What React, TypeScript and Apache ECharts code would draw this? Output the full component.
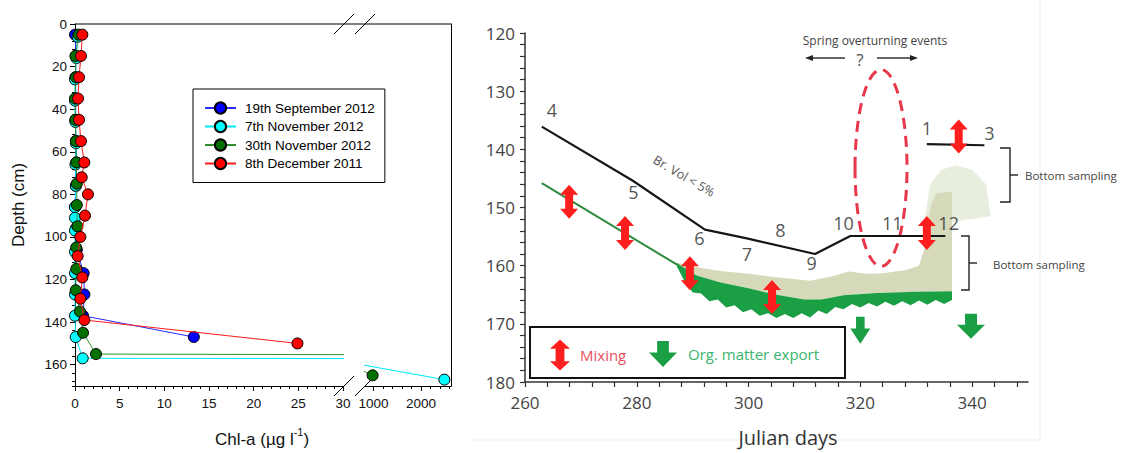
import React, { useEffect, useRef } from 'react';
import * as echarts from 'echarts';

// ---------------- Left panel: Chl-a profiles ----------------
const SERIES_NAMES = ['19th September 2012', '7th November 2012', '30th November 2012', '8th December 2011'];
const MARKER_COLORS = ['#0000ff', '#00ffff', '#007000', '#ff0000'];
const LINE_COLORS = ['#2a2aff', '#00e8ff', '#2f8f2f', '#ff1a1a'];

const sepDepth = [5, 15, 25, 35, 45, 55, 65, 76, 86, 96, 106, 117, 127, 137, 147];
const sepChl = [0.0, 0.1, 0.05, 0.1, 0.05, 0.1, 0.15, 0.1, 0.0, 0.1, 0.2, 0.97, 1.05, 0.9, 13.3];
const nov7Depth = [6, 16, 26, 36, 46, 56, 66, 76, 86, 91, 97, 107, 117, 127, 137, 147, 157, 167];
const nov7Chl = [0.3, 0.15, 0.0, 0.0, 0.05, 0.1, 0.05, 0.1, 0.0, 0.0, 0.0, 0.0, 0.0, 0.0, 0.0, 0.08, 0.86, 2490];
const nov30Depth = [5, 15, 25, 35, 45, 55, 65, 75, 85, 95, 105, 115, 125, 135, 145, 155, 165];
const nov30Chl = [0.4, 0.05, 0.1, 0.0, 0.05, 0.1, 0.15, 0.2, 0.2, 0.27, 0.13, 0.15, 0.08, 0.55, 0.9, 2.35, 980];
const dec8Depth = [5, 15, 25, 35, 45, 55, 65, 72, 80, 90, 100, 109, 119, 129, 139, 150];
const dec8Chl = [0.82, 0.67, 0.45, 0.34, 0.45, 0.67, 1.04, 0.75, 1.45, 1.12, 0.6, 0.3, 0.82, 0.6, 1.05, 24.9];

const PROFILES = [
  [sepChl, sepDepth],
  [nov7Chl, nov7Depth],
  [nov30Chl, nov30Depth],
  [dec8Chl, dec8Depth],
];

const chlLowTicks = [0, 30];
const chlHighLabels = [1000, 2000];
const chlHighMinor = [1200, 1400, 1600, 1800, 2200, 2400, 2600];

// ---------------- Right panel: Julian days ----------------
const brineDays = [263, 279.3, 292.2, 299.7, 311.9, 318.2, 335.2];
const brineDepth = [136.1, 145.4, 153.8, 155.3, 158.0, 154.9, 154.9];
const topLineDays = [331.9, 342.2];
const topLineDepth = [139.1, 139.3];
const iceDays = [263, 287.5];
const iceDepth = [145.8, 160.0];

const stationNames = ['4', '5', '6', '7', '8', '9', '10', '11', '12', '1', '3'];
const stationDays = [264.8, 279.4, 291.2, 299.7, 305.7, 311.3, 317.0, 325.7, 335.8, 331.9, 343.1];
const stationDepth = [133.2, 147.3, 155.3, 158.0, 153.9, 159.6, 152.6, 152.6, 152.6, 136.4, 137.2];

const mixingDays = [267.9, 277.9, 289.5, 304.2, 331.9, 337.6];
const mixingDepth = [149.0, 154.4, 161.3, 165.4, 154.4, 137.8];
const exportDays = [320.0, 339.8];
const exportDepth = [171.1, 170.4];

const bandTopDays = [287.2, 290.7, 295, 300, 305, 310, 313, 317, 323, 330, 336.4];
const bandTopDepth = [159.6, 161.7, 162.9, 163.9, 165.0, 165.8, 165.8, 165.1, 164.7, 164.5, 164.4];
const bandBottomDays = [336.4, 335, 333.5, 332, 330.5, 329, 327.5, 326, 324.5, 323, 321.5, 320, 318.5, 317, 315.5, 314, 312.5, 311, 309.5, 308, 306.5, 305, 303.5, 302, 300.5, 299, 297.5, 296, 294.5, 293, 291.5, 290, 288.5, 287.2];
const bandBottomDepth = [165.9, 166.6, 165.9, 166.7, 166.0, 166.8, 166.1, 166.9, 166.2, 167.0, 166.4, 167.2, 166.6, 167.5, 167.1, 168.3, 167.7, 168.9, 168.2, 169.0, 168.3, 169.0, 168.2, 168.6, 167.5, 168.0, 166.8, 167.2, 165.8, 166.1, 164.8, 164.6, 162.6, 160.2];

const beigeDays = [287.2, 291, 295, 300, 305, 311, 315, 318, 321, 324, 328, 330.5, 331.5, 332.5, 333.5, 336.4, 336.4];
const beigeDepth = [159.5, 160.3, 160.9, 161.4, 162.0, 162.6, 161.8, 161.0, 161.4, 161.3, 160.8, 160.0, 157.0, 150.0, 147.6, 147.3, 164.4];

const faintDays = [331.5, 332.5, 334.5, 337, 340, 342.5, 343.3, 336.4];
const faintDepth = [152, 146, 143.5, 142.8, 143.5, 146, 151.5, 152.5];

const ellipseCenter = [323.7, 143.2];
const ellipseRadius = [4.65, 16.9];

// ---------------- styles ----------------
const FONT_L = '"Liberation Sans", Arial, sans-serif';
const FONT_R = '"Open Sans", "Noto Sans", sans-serif';
const RED = '#ff1e1e';
const GREEN = '#1a9f45';
const DOUBLE_ARROW = 'path://M9,0L18,10L13,10L13,24L18,24L9,34L0,24L5,24L5,10L0,10Z';
const DOWN_ARROW = 'path://M8,0L20,0L20,11L28,11L14,25L0,11L8,11Z';

function polygonSeries(days: number[], depths: number[], fill: string, z: number) {
  return {
    type: 'custom',
    coordinateSystem: 'cartesian2d',
    xAxisIndex: 4,
    yAxisIndex: 3,
    silent: true,
    z,
    data: [[days[0], depths[0]]],
    renderItem: (_p: any, api: any) => ({
      type: 'polygon',
      shape: { points: days.map((d, i) => api.coord([d, depths[i]])) },
      style: { fill },
    }),
  };
}

function buildOption() {
  const leftSeries: any[] = [];
  PROFILES.forEach(([vals, depths], i) => {
    [[0, 0], [2, 2]].forEach(([xi, yi]) => {
      leftSeries.push({
        type: 'line',
        name: SERIES_NAMES[i],
        xAxisIndex: xi,
        yAxisIndex: yi,
        data: vals.map((v, k) => [v, depths[k]]),
        symbol: 'circle',
        symbolSize: 11,
        clip: true,
        silent: true,
        lineStyle: { color: LINE_COLORS[i], width: 1 },
        itemStyle: { color: MARKER_COLORS[i], borderColor: '#000', borderWidth: 1 },
        z: 3 + i,
      });
    });
  });

  const bandDays = [...bandTopDays, ...bandBottomDays];
  const bandDepth = [...bandTopDepth, ...bandBottomDepth];
  const beigeAllDays = [...beigeDays, ...bandTopDays.slice().reverse()];
  const beigeAllDepth = [...beigeDepth, ...bandTopDepth.slice().reverse()];

  const rightSeries: any[] = [
    polygonSeries(faintDays, faintDepth, '#e8eedd', 1),
    polygonSeries(beigeAllDays, beigeAllDepth, '#d7d9bb', 1),
    polygonSeries(bandDays, bandDepth, GREEN, 2),
    {
      type: 'line', xAxisIndex: 4, yAxisIndex: 3, silent: true, symbol: 'none',
      data: iceDays.map((d, i) => [d, iceDepth[i]]),
      lineStyle: { color: '#2e8b3e', width: 2 }, z: 3,
    },
    {
      type: 'custom', coordinateSystem: 'cartesian2d', xAxisIndex: 4, yAxisIndex: 3, silent: true, z: 4,
      data: [ellipseCenter],
      renderItem: (_p: any, api: any) => {
        const c = api.coord(ellipseCenter);
        const s = api.size(ellipseRadius);
        return {
          type: 'ellipse',
          shape: { cx: c[0], cy: c[1], rx: s[0], ry: s[1] },
          style: { fill: 'none', stroke: '#e8364a', lineWidth: 3, lineDash: [11, 7] },
        };
      },
    },
    {
      type: 'line', xAxisIndex: 4, yAxisIndex: 3, silent: true, symbol: 'none',
      data: brineDays.map((d, i) => [d, brineDepth[i]]),
      lineStyle: { color: '#161616', width: 2.2 }, z: 5,
    },
    {
      type: 'line', xAxisIndex: 4, yAxisIndex: 3, silent: true, symbol: 'none',
      data: topLineDays.map((d, i) => [d, topLineDepth[i]]),
      lineStyle: { color: '#161616', width: 2.2 }, z: 5,
    },
    {
      type: 'scatter', xAxisIndex: 4, yAxisIndex: 3, silent: true,
      symbolSize: 1,
      itemStyle: { color: 'rgba(0,0,0,0)' },
      data: stationNames.map((n, i) => ({ name: n, value: [stationDays[i], stationDepth[i]] })),
      label: { show: true, position: 'inside', formatter: '{b}', fontFamily: FONT_R, fontSize: 18, color: '#262626' },
      z: 6,
    },
    {
      type: 'scatter', xAxisIndex: 4, yAxisIndex: 3, silent: true,
      symbol: DOUBLE_ARROW, symbolSize: [18, 34],
      itemStyle: { color: RED, opacity: 1 },
      data: mixingDays.map((d, i) => [d, mixingDepth[i]]),
      z: 7,
    },
    {
      type: 'scatter', xAxisIndex: 4, yAxisIndex: 3, silent: true,
      symbol: DOWN_ARROW,
      symbolSize: (_v: any, p: any) => (p.dataIndex === 0 ? [20, 27] : [28, 25]),
      itemStyle: { color: GREEN, opacity: 1 },
      data: exportDays.map((d, i) => [d, exportDepth[i]]),
      z: 7,
    },
  ];

  const axisBlack = { color: '#000', width: 1 };
  const leftLabel = { fontFamily: FONT_L, fontSize: 13.5, color: '#111' };
  const rightLabel = { fontFamily: FONT_R, fontSize: 17, color: '#444' };

  const dArrow = (cx: number, cy: number, w: number, h: number) => {
    const hw = w / 2, hh = h / 2, sw = w * 0.22, head = h * 0.3;
    return [[cx, cy - hh], [cx + hw, cy - hh + head], [cx + sw, cy - hh + head], [cx + sw, cy + hh - head], [cx + hw, cy + hh - head], [cx, cy + hh], [cx - hw, cy + hh - head], [cx - sw, cy + hh - head], [cx - sw, cy - hh + head], [cx - hw, cy - hh + head]];
  };
  const downArrow = (cx: number, cy: number, w: number, h: number) => {
    const hw = w / 2, hh = h / 2, sw = w * 0.21, shaft = h * 0.44;
    return [[cx - sw, cy - hh], [cx + sw, cy - hh], [cx + sw, cy - hh + shaft], [cx + hw, cy - hh + shaft], [cx, cy + hh], [cx - hw, cy - hh + shaft], [cx - sw, cy - hh + shaft]];
  };

  const graphicEls: any[] = [
    // faint image border of the right figure
    { type: 'line', shape: { x1: 1040, y1: 0, x2: 1040, y2: 440 }, style: { stroke: '#ededed', lineWidth: 1 }, z: -1 },
    { type: 'line', shape: { x1: 470, y1: 440, x2: 1040, y2: 440 }, style: { stroke: '#ededed', lineWidth: 1 }, z: -1 },
    // left frame top & break marks
    { type: 'line', shape: { x1: 75, y1: 24, x2: 451, y2: 24 }, style: { stroke: '#000', lineWidth: 1 } },
    { type: 'line', shape: { x1: 334, y1: 34, x2: 354, y2: 14 }, style: { stroke: '#000', lineWidth: 1 } },
    { type: 'line', shape: { x1: 355, y1: 34, x2: 375, y2: 14 }, style: { stroke: '#000', lineWidth: 1 } },
    { type: 'line', shape: { x1: 334, y1: 396, x2: 354, y2: 376 }, style: { stroke: '#000', lineWidth: 1 } },
    { type: 'line', shape: { x1: 355, y1: 396, x2: 375, y2: 376 }, style: { stroke: '#000', lineWidth: 1 } },
    {
      type: 'text', x: 18, y: 205, rotation: Math.PI / 2,
      style: { text: 'Depth (cm)', fontFamily: FONT_L, fontSize: 17, fill: '#111', align: 'center', verticalAlign: 'middle' },
    },
    {
      type: 'text', x: 262, y: 437,
      style: {
        text: '{a|Chl-a (µg l}{s|-1}{a|)}', align: 'center', verticalAlign: 'middle', fill: '#111',
        rich: {
          a: { fontFamily: FONT_L, fontSize: 17, lineHeight: 22, verticalAlign: 'bottom', fill: '#111' },
          s: { fontFamily: FONT_L, fontSize: 11, lineHeight: 12, verticalAlign: 'top', fill: '#111' },
        },
      },
    },
    // right panel annotations
    {
      type: 'text', x: 684, y: 176, rotation: -0.53,
      style: { text: 'Br. Vol < 5%', fontFamily: FONT_R, fontSize: 12.5, fill: '#555', align: 'center', verticalAlign: 'middle' },
    },
    {
      type: 'text', x: 875, y: 40,
      style: { text: 'Spring overturning events', fontFamily: FONT_R, fontSize: 12, fill: '#444', align: 'center', verticalAlign: 'middle' },
    },
    {
      type: 'text', x: 860, y: 59,
      style: { text: '?', fontFamily: FONT_R, fontSize: 17, fill: '#555', align: 'center', verticalAlign: 'middle' },
    },
    { type: 'line', shape: { x1: 845, y1: 58, x2: 811, y2: 58 }, style: { stroke: '#333', lineWidth: 1.3 } },
    { type: 'polygon', shape: { points: [[805, 58], [813, 55], [813, 61]] }, style: { fill: '#222' } },
    { type: 'line', shape: { x1: 877, y1: 58, x2: 912, y2: 58 }, style: { stroke: '#333', lineWidth: 1.3 } },
    { type: 'polygon', shape: { points: [[918, 58], [910, 55], [910, 61]] }, style: { fill: '#222' } },
    // brackets
    { type: 'polyline', shape: { points: [[1000, 148], [1010, 148], [1010, 202], [1000, 202]] }, style: { stroke: '#222', lineWidth: 1.4, fill: 'none' } },
    { type: 'line', shape: { x1: 1010, y1: 175, x2: 1018, y2: 175 }, style: { stroke: '#222', lineWidth: 1.4 } },
    { type: 'text', x: 1025, y: 175, style: { text: 'Bottom sampling', fontFamily: FONT_R, fontSize: 11.5, fill: '#444', align: 'left', verticalAlign: 'middle' } },
    { type: 'polyline', shape: { points: [[961, 236], [969, 236], [969, 290], [961, 290]] }, style: { stroke: '#222', lineWidth: 1.4, fill: 'none' } },
    { type: 'line', shape: { x1: 969, y1: 263, x2: 977, y2: 263 }, style: { stroke: '#222', lineWidth: 1.4 } },
    { type: 'text', x: 993, y: 264, style: { text: 'Bottom sampling', fontFamily: FONT_R, fontSize: 11.5, fill: '#444', align: 'left', verticalAlign: 'middle' } },
    // in-plot legend box
    { type: 'rect', shape: { x: 530, y: 327, width: 315, height: 51 }, style: { fill: '#fff', stroke: '#111', lineWidth: 2 }, z: 10 },
    { type: 'polygon', shape: { points: dArrow(560, 355, 20, 31) }, style: { fill: RED }, z: 11 },
    { type: 'text', x: 580, y: 355, style: { text: 'Mixing', fontFamily: FONT_R, fontSize: 15, fill: '#e8505c', align: 'left', verticalAlign: 'middle' }, z: 11 },
    { type: 'polygon', shape: { points: downArrow(663, 354, 28, 26) }, style: { fill: GREEN }, z: 11 },
    { type: 'text', x: 688, y: 354, style: { text: 'Org. matter export', fontFamily: FONT_R, fontSize: 15, fill: '#3cb46e', align: 'left', verticalAlign: 'middle' }, z: 11 },
    {
      type: 'text', x: 788, y: 437,
      style: { text: 'Julian days', fontFamily: FONT_R, fontSize: 20, fill: '#333', align: 'center', verticalAlign: 'middle' },
    },
  ];

  return {
    animation: false,
    backgroundColor: '#fff',
    grid: [
      { left: 75, top: 24, width: 268, height: 362 },
      { left: 365, top: 24, width: 86, height: 362 },
      { left: 525, top: 33, width: 503, height: 349 },
    ],
    legend: {
      data: SERIES_NAMES,
      orient: 'vertical',
      left: 193,
      top: 89,
      padding: [12, 10, 12, 11],
      itemGap: 4.5,
      itemWidth: 31,
      itemHeight: 14,
      borderColor: '#000',
      borderWidth: 1,
      backgroundColor: '#fff',
      selectedMode: false,
      textStyle: { fontFamily: FONT_L, fontSize: 13.5, color: '#000', padding: [0, 0, 0, 4] },
    },
    xAxis: [
      {
        gridIndex: 0, type: 'value', min: chlLowTicks[0], max: chlLowTicks[1], interval: 5, position: 'bottom',
        axisLine: { show: true, onZero: false, lineStyle: axisBlack },
        axisTick: { show: true, length: 5, lineStyle: axisBlack },
        axisLabel: { ...leftLabel, margin: 10 },
        splitLine: { show: false },
      },
      {
        gridIndex: 0, type: 'value', min: chlLowTicks[0], max: chlLowTicks[1], interval: 1, position: 'bottom',
        axisLine: { show: false, onZero: false },
        axisTick: { show: true, length: 3, lineStyle: axisBlack },
        axisLabel: { show: false },
        splitLine: { show: false },
      },
      {
        gridIndex: 1, type: 'value', min: 820, max: 2630, position: 'bottom',
        axisLine: { show: true, onZero: false, lineStyle: axisBlack },
        axisTick: { show: true, length: 5, lineStyle: axisBlack, customValues: chlHighLabels },
        axisLabel: { ...leftLabel, margin: 10, customValues: chlHighLabels, formatter: (v: number) => String(v) },
        splitLine: { show: false },
      },
      {
        gridIndex: 1, type: 'value', min: 820, max: 2630, position: 'bottom',
        axisLine: { show: false, onZero: false },
        axisTick: { show: true, length: 3, lineStyle: axisBlack, customValues: chlHighMinor },
        axisLabel: { show: false },
        splitLine: { show: false },
      },
      {
        gridIndex: 2, type: 'value', min: 260, max: 350, interval: 4, position: 'bottom',
        axisLine: { show: true, onZero: false, lineStyle: { color: '#333', width: 1.5 } },
        axisTick: { show: true, length: 5, lineStyle: { color: '#333', width: 1.2 } },
        axisLabel: { ...rightLabel, margin: 12, showMaxLabel: false, formatter: (v: number) => (v % 20 === 0 ? String(v) : '') },
        splitLine: { show: false },
      },
    ],
    yAxis: [
      {
        gridIndex: 0, type: 'value', inverse: true, min: 0, max: 170, interval: 20, position: 'left',
        axisLine: { show: true, onZero: false, lineStyle: axisBlack },
        axisTick: { show: true, length: 5, lineStyle: axisBlack },
        axisLabel: { ...leftLabel, margin: 8, showMaxLabel: false },
        splitLine: { show: false },
      },
      {
        gridIndex: 0, type: 'value', inverse: true, min: 0, max: 170, interval: 4, position: 'left',
        axisLine: { show: false, onZero: false },
        axisTick: { show: true, length: 3, lineStyle: axisBlack },
        axisLabel: { show: false },
        splitLine: { show: false },
      },
      {
        gridIndex: 1, type: 'value', inverse: true, min: 0, max: 170, position: 'right',
        axisLine: { show: true, onZero: false, lineStyle: axisBlack },
        axisTick: { show: false },
        axisLabel: { show: false },
        splitLine: { show: false },
      },
      {
        gridIndex: 2, type: 'value', inverse: true, min: 120, max: 180, interval: 2, position: 'left',
        axisLine: { show: true, onZero: false, lineStyle: { color: '#333', width: 1.5 } },
        axisTick: { show: true, length: 5, lineStyle: { color: '#333', width: 1.2 } },
        axisLabel: { ...rightLabel, margin: 10, formatter: (v: number) => (v % 10 === 0 ? String(v) : '') },
        splitLine: { show: false },
      },
    ],
    series: [...leftSeries, ...rightSeries],
    graphic: { elements: graphicEls },
  };
}

export default function App() {
  const ref = useRef<HTMLDivElement>(null);
  useEffect(() => {
    if (!ref.current) return;
    const chart = echarts.init(ref.current, null, { renderer: 'svg' });
    chart.setOption(buildOption() as any);
    return () => chart.dispose();
  }, []);
  return (
    <div
      ref={ref}
      style={{ position: 'fixed', left: 0, top: 0, width: 1130, height: 453, background: '#fff' }}
    />
  );
}
